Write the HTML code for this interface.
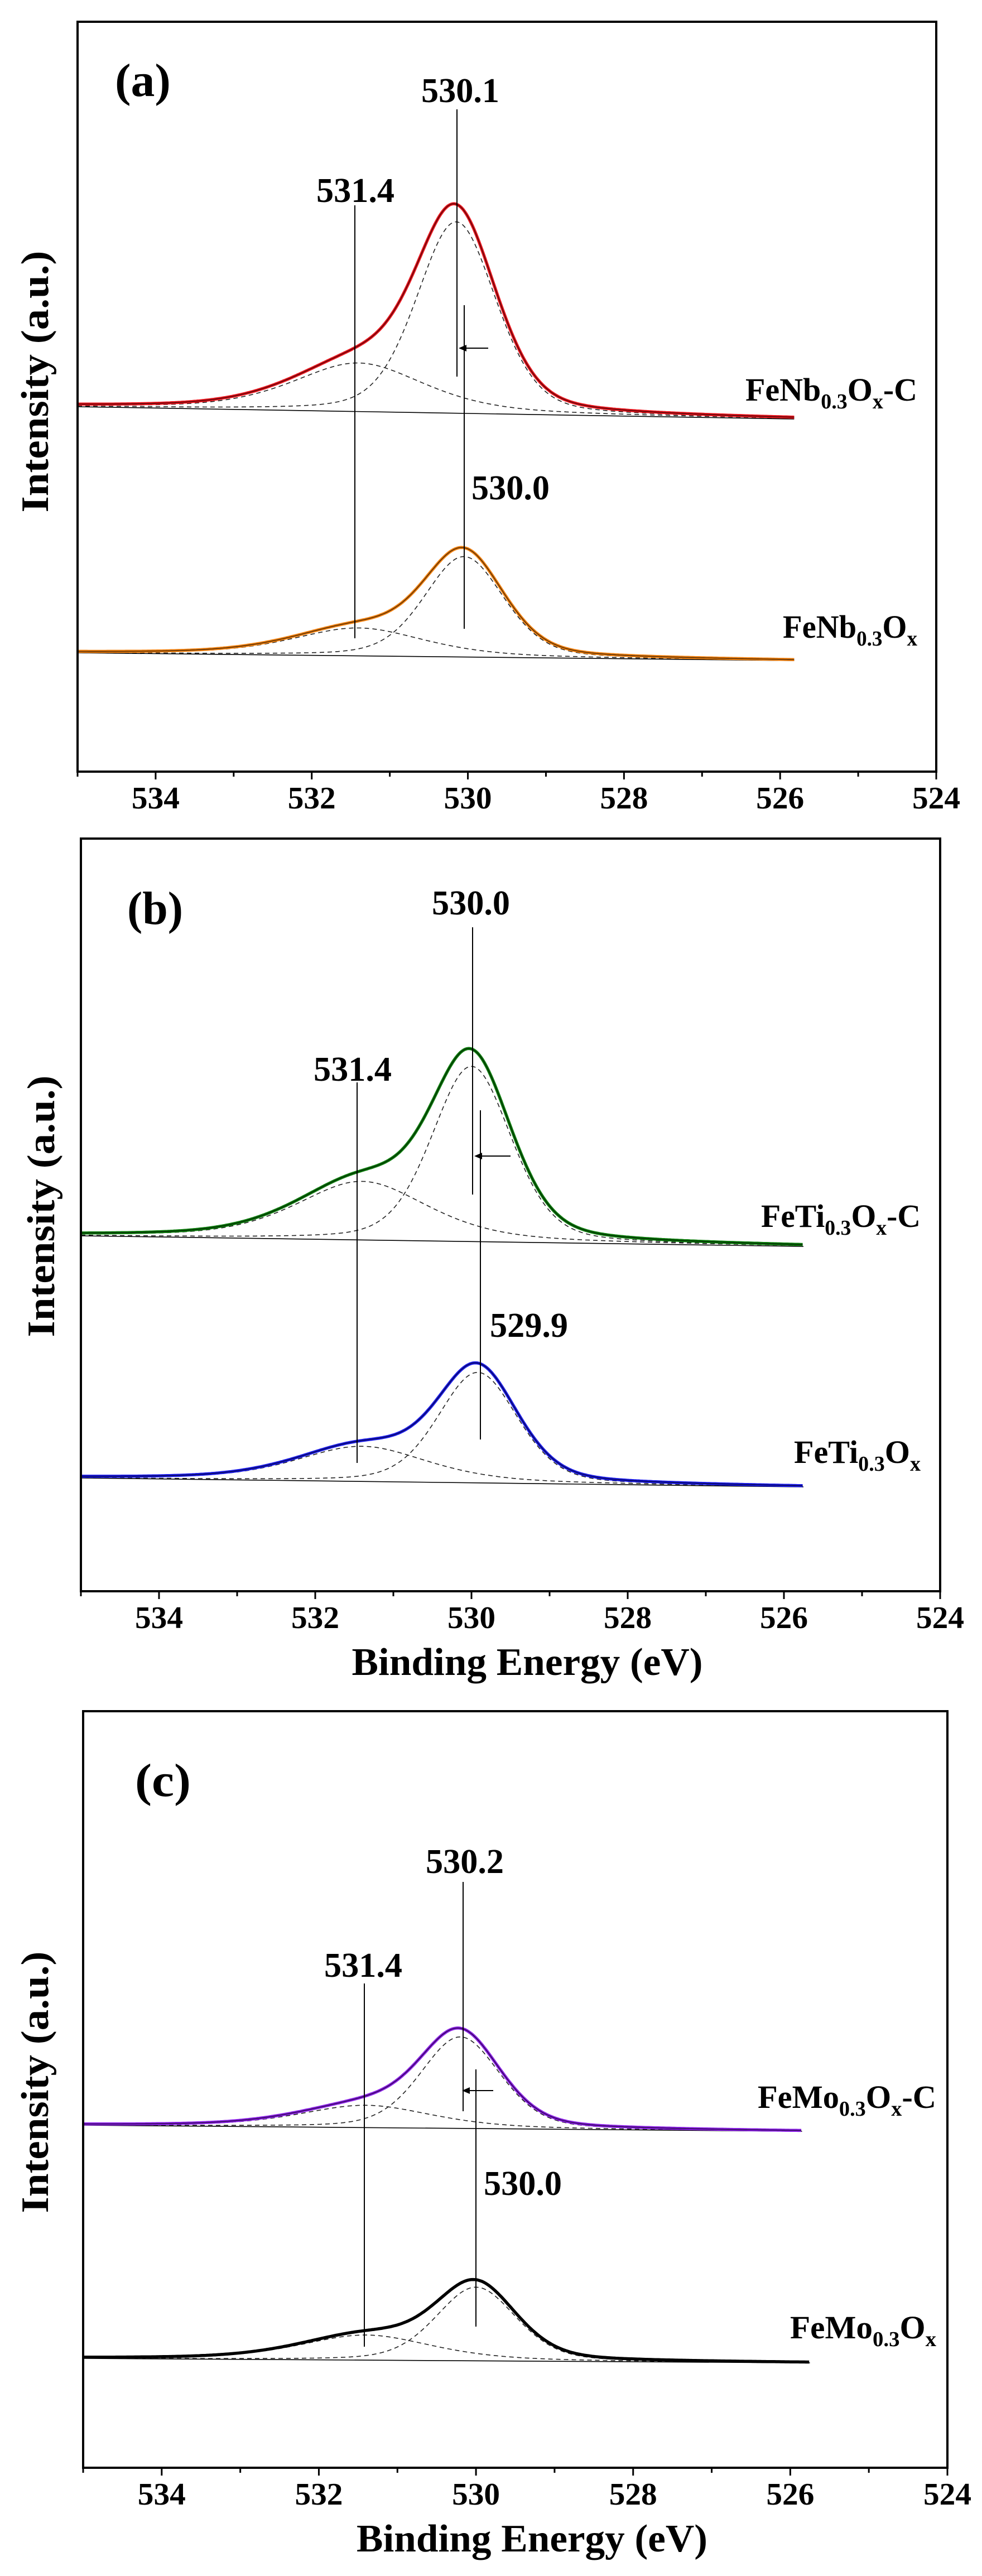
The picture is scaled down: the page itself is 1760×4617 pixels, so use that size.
<!DOCTYPE html>
<html><head><meta charset="utf-8">
<style>
html,body{margin:0;padding:0;background:#fff;}
svg{display:block;}
text{font-family:"Liberation Serif",serif;font-weight:bold;fill:#000;}
</style></head>
<body>
<svg id="s" xmlns="http://www.w3.org/2000/svg" width="1760" height="4617" viewBox="0 0 1760 4617"></svg>
<script>
const svg=document.getElementById('s');
let out='';
function pv(E,c,h,w,eta){const d=(E-c)/w;return h*(eta/(1+d*d)+(1-eta)*Math.exp(-0.6931*d*d));}
function txt(x,y,s,size,len,anchor,extra){
  out+=`<text x="${x}" y="${y}" font-size="${size}" text-anchor="${anchor||'middle'}" ${len?`textLength="${len}" lengthAdjust="spacingAndGlyphs"`:''} ${extra||''}>${s}</text>`;
}
const panels=[
 {L:139,R:1678,T:39,B:1383,lab:'(a)',labx:256,laby:172,ylab:684,ylx:62,xtitle:false,
  sp:[{y0:729,y1:751,Ee:525.82,col:'#e8141c',c1:530.15,h1:343,h2:87},
      {y0:1170,y1:1184,Ee:525.82,col:'#f0800f',c1:530.05,h1:180,h2:50}],
  lines:[[819,196,675],[636,368,1144],[832,547,1127]],arrow:[875,822,624],
  texts:[['530.1',825,183],['531.4',637,362],['530.0',915,895]],
  names:[['FeNb','-C',1336,718,308],['FeNb','',1403,1143,241]]},
 {L:145,R:1685,T:1503,B:2852,lab:'(b)',labx:278,laby:1656,ylab:2162,ylx:73,xtitle:true,
  sp:[{y0:2215,y1:2234,Ee:525.75,col:'#0b7a0b',c1:530.0,h1:314,h2:105},
      {y0:2649,y1:2665,Ee:525.75,col:'#1a1ae6',c1:529.92,h1:198,h2:63}],
  lines:[[847,1662,2141],[640,1940,2622],[861,1990,2580]],arrow:[915,850,2072],
  texts:[['530.0',844,1639],['531.4',632,1937],['529.9',948,2396]],
  names:[['FeTi','-C',1364,2199,286],['FeTi','',1423,2622,227]]},
 {L:149,R:1698,T:3067,B:4423,lab:'(c)',labx:292,laby:3219,ylab:3732,ylx:62,xtitle:true,
  sp:[{y0:3809,y1:3820,Ee:525.85,col:'#8a1ee6',c1:530.2,h1:164,h2:40},
      {y0:4227,y1:4235,Ee:525.75,col:'#000000',c1:530.0,h1:132,h2:45}],
  lines:[[830,3373,3784],[653,3555,4206],[853,3709,4170]],arrow:[884,828,3747],
  texts:[['530.2',833,3357],['531.4',651,3543],['530.0',937,3934]],
  names:[['FeMo','-C',1358,3778,320],['FeMo','',1416,4191,262]]}
];
for(const p of panels){
  const s=(p.R-p.L)/11;
  const X=E=>p.L+(535-E)*s;
  // spectra
  for(const q of p.sp){
    const base=E=>q.y0+(q.y1-q.y0)*(535-E)/(535-q.Ee);
    let env='',d1='',d2='',bl='';
    for(let E=535;E>=q.Ee-0.001;E-=0.02){
      const b=base(E);
      const a1=pv(E,q.c1,q.h1,0.6,0.3), a2=pv(E,531.4,q.h2,1.0,0.5);
      const x=X(E).toFixed(1);
      env+=(env?'L':'M')+x+','+(b-a1-a2).toFixed(1);
      d1+=(d1?'L':'M')+x+','+(b-a1).toFixed(1);
      d2+=(d2?'L':'M')+x+','+(b-a2).toFixed(1);
    }
    out+=`<line x1="${X(535)}" y1="${q.y0}" x2="${X(q.Ee)}" y2="${q.y1}" stroke="#000" stroke-width="1.6"/>`;
    out+=`<path d="${d1}" fill="none" stroke="#222" stroke-width="1.6" stroke-dasharray="8,6"/>`;
    out+=`<path d="${d2}" fill="none" stroke="#222" stroke-width="1.6" stroke-dasharray="8,6"/>`;
    out+=`<path d="${env}" fill="none" stroke="${q.col}" stroke-width="5.5"/>`;
    out+=`<path d="${env}" fill="none" stroke="#000" stroke-width="1.4" opacity="0.7"/>`;
  }
  for(const l of p.lines) out+=`<line x1="${l[0]}" y1="${l[1]}" x2="${l[0]}" y2="${l[2]}" stroke="#000" stroke-width="2"/>`;
  const ar=p.arrow;
  out+=`<line x1="${ar[0]}" y1="${ar[2]}" x2="${ar[1]+4}" y2="${ar[2]}" stroke="#000" stroke-width="2"/>`;
  out+=`<path d="M${ar[1]},${ar[2]} l14,-6 l0,12 z" fill="#000"/>`;
  for(const t of p.texts) txt(t[0+1],t[2]+0,t[0],62,140);
  for(const n of p.names){
    const pre=n[0];
    out+=`<text x="${n[2]}" y="${n[3]}" font-size="58" textLength="${n[4]}" lengthAdjust="spacingAndGlyphs">${pre}<tspan font-size="38" dy="14">0.3</tspan><tspan font-size="58" dy="-14">O</tspan><tspan font-size="38" dy="14">x</tspan><tspan font-size="58" dy="-14">${n[1]}</tspan></text>`;
  }
  txt(p.labx,p.laby,p.lab,84,100);
  // frame
  out+=`<rect x="${p.L}" y="${p.T}" width="${p.R-p.L}" height="${p.B-p.T}" fill="none" stroke="#000" stroke-width="4"/>`;
  // ticks
  for(let E=535;E>=524;E--){
    const x=X(E);const major=(E%2===0);
    out+=`<line x1="${x}" y1="${p.B}" x2="${x}" y2="${p.B+(major?14:9)}" stroke="#000" stroke-width="3"/>`;
    if(major) txt(x,p.B+66,String(E),56,86);
  }
  if(p.xtitle) txt((p.L+p.R)/2+30,p.B+150,'Binding Energy (eV)',70,629);
  out+=`<text x="0" y="0" font-size="70" text-anchor="middle" textLength="469" lengthAdjust="spacingAndGlyphs" transform="translate(${p.ylx+24},${p.ylab}) rotate(-90)">Intensity (a.u.)</text>`;
}
svg.innerHTML=out;
</script>
</body></html>
